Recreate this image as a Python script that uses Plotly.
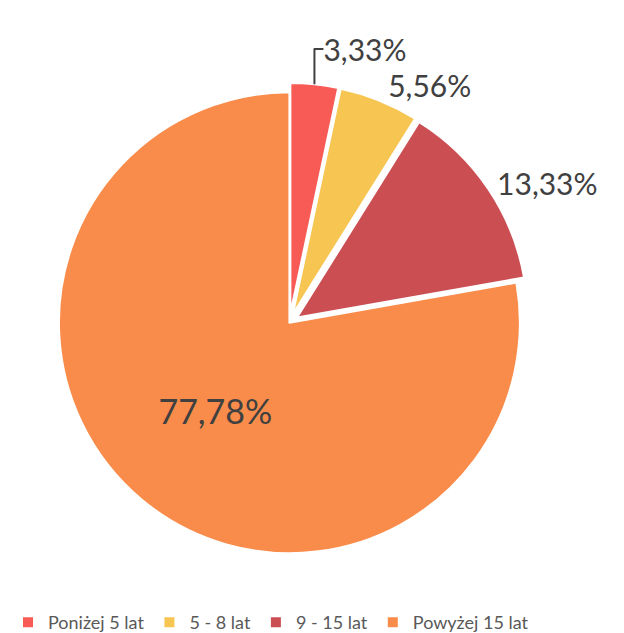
import plotly.graph_objects as go

labels = ["Poniżej 5 lat", "5 - 8 lat", "9 - 15 lat", "Powyżej 15 lat"]
values = [3.33, 5.56, 13.33, 77.78]
colors = ["#F85A56", "#F7C552", "#CB4E53", "#F98C4A"]
pulls = [0.04, 0.04, 0.04, 0.0]
text_pos = ["outside", "outside", "outside", "inside"]

fig = go.Figure()
fig.add_trace(go.Pie(
    labels=labels,
    values=values,
    sort=False,
    direction="clockwise",
    rotation=0,
    pull=pulls,
    domain=dict(x=[0.07, 1.0], y=[0.13, 1.0]),
    marker=dict(colors=colors, line=dict(color="white", width=2)),
    textposition=text_pos,
    texttemplate="%{percent:.2%}",
    textfont=dict(size=34, color="#404040", family="Lato"),
    outsidetextfont=dict(size=30, color="#404040", family="Lato"),
    insidetextorientation="horizontal",
    hoverinfo="label+percent",
))

fig.update_layout(
    width=624, height=633,
    separators=", ",
    margin=dict(l=0, r=0, t=0, b=0),
    paper_bgcolor="white",
    legend=dict(
        orientation="h",
        x=0.0, xanchor="left",
        y=0.02, yanchor="middle",
        font=dict(size=18, color="#595959", family="Lato"),
    ),
)

fig.write_html("out.html")
